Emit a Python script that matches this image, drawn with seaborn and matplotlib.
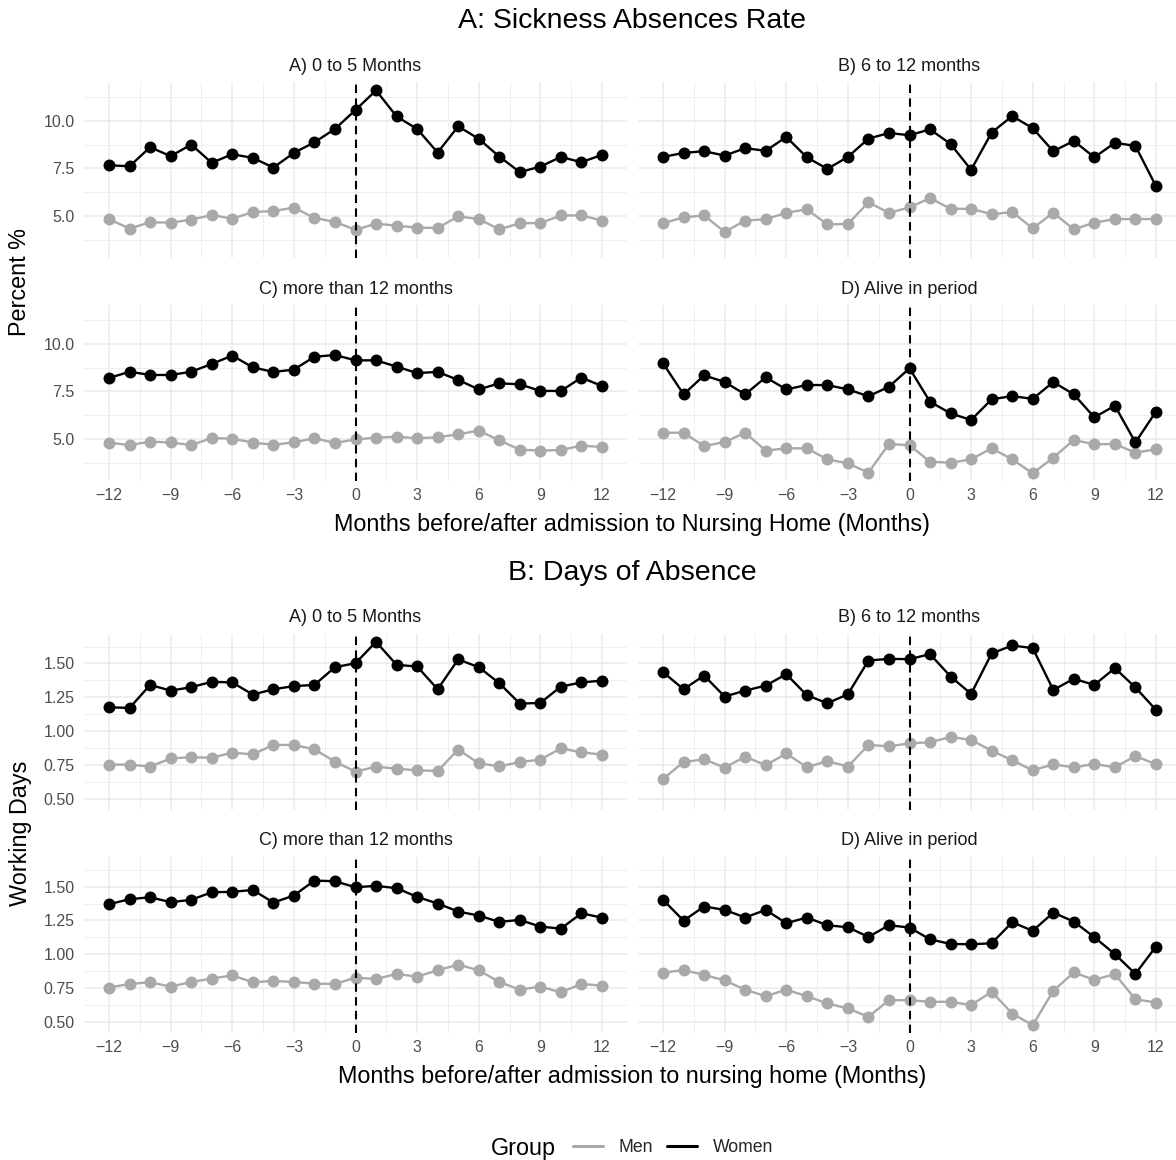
import numpy as np
import pandas as pd
import seaborn as sns
import matplotlib.pyplot as plt
from matplotlib.lines import Line2D
from matplotlib.ticker import MultipleLocator, FormatStrFormatter

# ---- data -------------------------------------------------------------
months = list(range(-12, 13))
facet_labels = ["A) 0 to 5 Months", "B) 6 to 12 months",
                "C) more than 12 months", "D) Alive in period"]
groups = ["Men", "Women"]

# Sickness absence rate (%)
rate_women_a = [7.67, 7.62, 8.62, 8.15, 8.76, 7.80, 8.25, 8.06, 7.55, 8.32, 8.88, 9.58, 10.58,
                11.61, 10.24, 9.58, 8.34, 9.72, 9.06, 8.13, 7.31, 7.60, 8.11, 7.83, 8.22]
rate_men_a = [4.83, 4.34, 4.67, 4.65, 4.81, 5.05, 4.86, 5.21, 5.26, 5.44, 4.90, 4.69, 4.27,
              4.60, 4.49, 4.39, 4.37, 4.98, 4.84, 4.30, 4.62, 4.63, 5.03, 5.03, 4.76]
rate_women_b = [8.11, 8.32, 8.41, 8.18, 8.57, 8.43, 9.16, 8.09, 7.48, 8.11, 9.07, 9.37, 9.25,
                9.56, 8.79, 7.43, 9.39, 10.26, 9.62, 8.41, 8.95, 8.09, 8.85, 8.69, 6.57]
rate_men_b = [4.62, 4.93, 5.03, 4.16, 4.76, 4.83, 5.17, 5.35, 4.56, 4.58, 5.72, 5.17, 5.45,
              5.94, 5.38, 5.38, 5.09, 5.21, 4.35, 5.17, 4.30, 4.65, 4.84, 4.84, 4.84]
rate_women_c = [8.21, 8.54, 8.37, 8.37, 8.54, 8.95, 9.39, 8.77, 8.53, 8.65, 9.33, 9.42, 9.14,
                9.14, 8.81, 8.47, 8.53, 8.11, 7.61, 7.93, 7.88, 7.53, 7.53, 8.23, 7.79]
rate_men_c = [4.81, 4.68, 4.86, 4.82, 4.68, 5.05, 5.02, 4.81, 4.70, 4.82, 5.04, 4.79, 4.98,
              5.07, 5.12, 5.04, 5.09, 5.25, 5.44, 4.93, 4.44, 4.39, 4.42, 4.65, 4.58]
rate_women_d = [8.98, 7.35, 8.35, 8.00, 7.35, 8.25, 7.61, 7.84, 7.84, 7.61, 7.25, 7.75, 8.72,
                6.96, 6.35, 6.00, 7.09, 7.26, 7.11, 8.00, 7.35, 6.14, 6.75, 4.82, 6.44]
rate_men_d = [5.33, 5.33, 4.63, 4.84, 5.33, 4.39, 4.51, 4.51, 3.93, 3.72, 3.23, 4.74, 4.67,
              3.81, 3.75, 3.93, 4.51, 3.93, 3.19, 4.02, 4.95, 4.72, 4.74, 4.28, 4.46]

# Days of absence (working days)
days_women_a = [1.177, 1.172, 1.342, 1.300, 1.325, 1.365, 1.360, 1.271, 1.310, 1.333, 1.342,
                1.473, 1.502, 1.660, 1.490, 1.478, 1.310, 1.530, 1.473, 1.355, 1.204, 1.209,
                1.330, 1.360, 1.374]
days_men_a = [0.754, 0.754, 0.739, 0.800, 0.808, 0.805, 0.842, 0.830, 0.899, 0.899, 0.867,
              0.776, 0.702, 0.739, 0.724, 0.712, 0.707, 0.865, 0.764, 0.741, 0.773, 0.791,
              0.874, 0.845, 0.828]
days_women_b = [1.436, 1.310, 1.411, 1.256, 1.300, 1.337, 1.421, 1.266, 1.207, 1.273, 1.522,
                1.534, 1.532, 1.569, 1.404, 1.276, 1.574, 1.633, 1.613, 1.305, 1.387, 1.342,
                1.466, 1.323, 1.158]
days_men_b = [0.648, 0.773, 0.793, 0.732, 0.813, 0.749, 0.837, 0.734, 0.781, 0.739, 0.899,
              0.889, 0.911, 0.919, 0.958, 0.936, 0.857, 0.786, 0.712, 0.756, 0.734, 0.759,
              0.734, 0.818, 0.756]
days_women_c = [1.370, 1.407, 1.421, 1.385, 1.402, 1.458, 1.461, 1.475, 1.382, 1.434, 1.544,
                1.539, 1.495, 1.505, 1.488, 1.424, 1.375, 1.316, 1.286, 1.240, 1.254, 1.205,
                1.190, 1.303, 1.271]
days_men_c = [0.756, 0.783, 0.795, 0.763, 0.797, 0.822, 0.846, 0.795, 0.805, 0.797, 0.785,
              0.783, 0.829, 0.819, 0.856, 0.837, 0.883, 0.925, 0.883, 0.797, 0.741, 0.763,
              0.721, 0.783, 0.770]
days_women_d = [1.402, 1.249, 1.353, 1.328, 1.272, 1.328, 1.230, 1.272, 1.215, 1.200, 1.129,
                1.215, 1.198, 1.111, 1.077, 1.075, 1.082, 1.237, 1.174, 1.308, 1.242, 1.127,
                1.002, 0.857, 1.058]
days_men_d = [0.866, 0.885, 0.849, 0.809, 0.740, 0.693, 0.740, 0.693, 0.639, 0.602, 0.541,
              0.663, 0.663, 0.651, 0.651, 0.627, 0.725, 0.565, 0.479, 0.732, 0.867, 0.813,
              0.855, 0.670, 0.646]

rate_series = {
    facet_labels[0]: (rate_men_a, rate_women_a),
    facet_labels[1]: (rate_men_b, rate_women_b),
    facet_labels[2]: (rate_men_c, rate_women_c),
    facet_labels[3]: (rate_men_d, rate_women_d),
}
days_series = {
    facet_labels[0]: (days_men_a, days_women_a),
    facet_labels[1]: (days_men_b, days_women_b),
    facet_labels[2]: (days_men_c, days_women_c),
    facet_labels[3]: (days_men_d, days_women_d),
}


def long_table(series):
    rows = []
    for facet, (men, women) in series.items():
        for grp, vals in zip(groups, (men, women)):
            for m, v in zip(months, vals):
                rows.append({"Facet": facet, "Group": grp, "Month": m, "Value": v})
    return pd.DataFrame(rows)


rate_df = long_table(rate_series)
days_df = long_table(days_series)

# ---- styling ----------------------------------------------------------
sns.set_theme(style="white")
plt.rcParams["font.family"] = ["Liberation Sans", "DejaVu Sans"]

palette = {"Men": "#A9A9A9", "Women": "#000000"}
grid_col = "#EBEBEB"
tick_col = "#4D4D4D"

W, H = 1176, 1160
fig = plt.figure(figsize=(W / 100, H / 100), dpi=100)


def rect(x0, x1, y0, y1):
    return [x0 / W, 1 - y1 / H, (x1 - x0) / W, (y1 - y0) / H]


cols = [(84.4, 626.6), (638.4, 1180.6)]


def draw_section(df, rows, title, title_y, ylabel, xlabel, xlabel_y,
                 ymajor, yfmt):
    axes = []
    first = None
    for i, facet in enumerate(facet_labels):
        r, c = divmod(i, 2)
        ax = fig.add_axes(rect(cols[c][0], cols[c][1], rows[r][0], rows[r][1]),
                          sharex=first, sharey=first)
        if first is None:
            first = ax
        sub = df[df["Facet"] == facet]
        sns.lineplot(data=sub, x="Month", y="Value", hue="Group",
                     hue_order=groups, palette=palette, marker="o",
                     markersize=8.6, markeredgewidth=0, linewidth=1.7,
                     errorbar=None, legend=False, ax=ax)
        ax.axvline(0, color="black", linewidth=1.5, linestyle=(0, (4, 2.6)),
                   zorder=5)
        ax.set_xlabel("")
        ax.set_ylabel("")
        for s in ax.spines.values():
            s.set_visible(False)
        ax.annotate(facet, xy=(0.5, 1), xycoords="axes fraction",
                    xytext=(0, 11.8), textcoords="offset points",
                    ha="center", va="center", fontsize=13, color="#1A1A1A")
        axes.append((ax, r, c))

    first.margins(x=0.05, y=0.05)
    first.xaxis.set_major_locator(MultipleLocator(3))
    first.xaxis.set_minor_locator(MultipleLocator(1.5))
    first.yaxis.set_major_locator(MultipleLocator(ymajor))
    first.yaxis.set_minor_locator(MultipleLocator(ymajor / 2))
    first.yaxis.set_major_formatter(FormatStrFormatter(yfmt))

    for ax, r, c in axes:
        ax.set_axisbelow(True)
        ax.grid(which="major", color=grid_col, linewidth=1.1)
        ax.grid(which="minor", color=grid_col, linewidth=0.55)
        ax.tick_params(which="both", length=0, labelsize=11.5,
                       labelcolor=tick_col, pad=5)
        ax.tick_params(axis="y", pad=7)
        ax.tick_params(labelbottom=(r == 1), labelleft=(c == 0))

    fig.text(632.5 / W, 1 - title_y / H, title, ha="center", va="center",
             fontsize=20.5, color="black")
    fig.text(632.5 / W, 1 - xlabel_y / H, xlabel, ha="center", va="center",
             fontsize=16.8, color="black")
    ymid = (rows[0][0] + rows[1][1]) / 2
    fig.text(20 / W, 1 - ymid / H, ylabel, ha="center", va="center",
             rotation=90, fontsize=16.8, color="black")


draw_section(rate_df, [(82.4, 258.4), (305.4, 481.4)],
             "A: Sickness Absences Rate", 21.5, "Percent %",
             "Months before/after admission to Nursing Home (Months)", 524.5,
             2.5, "%.1f")
draw_section(days_df, [(633.8, 809.9), (856.8, 1033.2)],
             "B: Days of Absence", 572.5, "Working Days",
             "Months before/after admission to nursing home (Months)", 1076.5,
             0.25, "%.2f")

# ---- shared legend ----------------------------------------------------
handles = [Line2D([], [], color=palette[g], linewidth=2.2) for g in groups]
fig.text(523 / W, 1 - 1148 / H, "Group", ha="center", va="center",
         fontsize=16.8, color="black")
fig.legend(handles, groups, loc="center", bbox_to_anchor=(673 / W, 1 - 1148 / H),
           ncol=2, frameon=False, fontsize=12.7, handlelength=1.7,
           handletextpad=0.9, columnspacing=0.8, borderpad=0, borderaxespad=0)

fig.savefig("out.png", dpi=100, facecolor="white")
